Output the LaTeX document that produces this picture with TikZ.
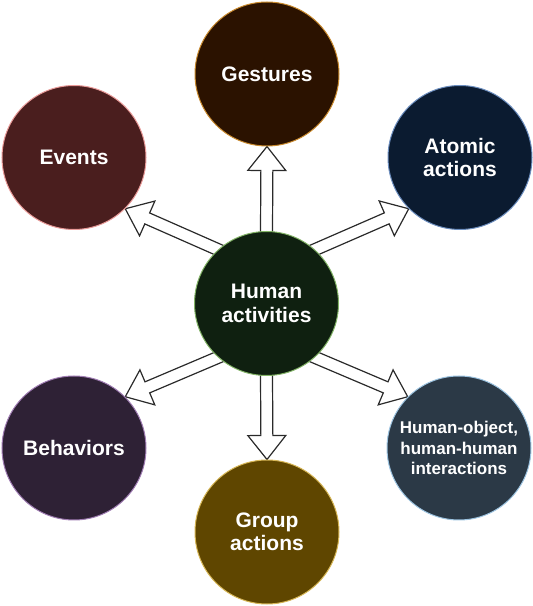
\documentclass[tikz,border=0pt]{standalone}
\usepackage{fontspec}
\setmainfont{Liberation Sans}
\usetikzlibrary{calc,backgrounds}
\definecolor{hubfill}{HTML}{0F2010}
\definecolor{hubline}{HTML}{82B366}
\definecolor{gestfill}{HTML}{2B1200}
\definecolor{gestline}{HTML}{C98A2E}
\definecolor{evfill}{HTML}{4A1E1E}
\definecolor{evline}{HTML}{E99A98}
\definecolor{atomfill}{HTML}{0B1B30}
\definecolor{atomline}{HTML}{6C8EBF}
\definecolor{behfill}{HTML}{2E2135}
\definecolor{behline}{HTML}{A07DB3}
\definecolor{interfill}{HTML}{2B3946}
\definecolor{interline}{HTML}{9CC3E0}
\definecolor{grpfill}{HTML}{5F4600}
\definecolor{grpline}{HTML}{D6B656}
\definecolor{arrowgray}{HTML}{2A2A2A}
\tikzset{
  activity/.style={circle, minimum size=144pt, inner sep=0pt, line width=1pt,
    text=white, align=center, font=\bfseries\fontsize{21}{23.5}\selectfont},
  blockarrow/.style={draw=arrowgray, fill=white, line width=1.2pt, line join=miter,
    to path={
      ($(\tikztostart)!-10pt!(\tikztotarget)!6pt!90:(\tikztotarget)$) --
      ($(\tikztotarget)!24pt!(\tikztostart)!6pt!-90:(\tikztostart)$) --
      ($(\tikztotarget)!24pt!(\tikztostart)!19pt!-90:(\tikztostart)$) --
      (\tikztotarget) --
      ($(\tikztotarget)!24pt!(\tikztostart)!19pt!90:(\tikztostart)$) --
      ($(\tikztotarget)!24pt!(\tikztostart)!6pt!90:(\tikztostart)$) --
      ($(\tikztostart)!-10pt!(\tikztotarget)!6pt!-90:(\tikztotarget)$) -- cycle}}
}
\begin{document}
\begin{tikzpicture}[x=1pt, y=1pt]
    \useasboundingbox (0,0) rectangle (533,606);
    \node[activity, fill=hubfill, draw=hubline] (hub) at (266.5,302.5) {Human\\activities};
    \node[activity, fill=gestfill, draw=gestline] (gest) at (267,532) {Gestures};
    \node[activity, fill=evfill, draw=evline] (events) at (74,448.5) {Events};
    \node[activity, fill=atomfill, draw=atomline] (atomic) at (460,448.5) {Atomic\\actions};
    \node[activity, fill=behfill, draw=behline] (behav) at (74,158) {Behaviors};
    \node[activity, fill=interfill, draw=interline, font=\bfseries\fontsize{17}{20.5}\selectfont] (inter) at (459,158) {Human-object,\\human-human\\interactions};
    \node[activity, fill=grpfill, draw=grpline] (group) at (267,74) {Group\\actions};
    \begin{scope}[on background layer]
      \draw[blockarrow] (hub.north) to (gest.south);
      \draw[blockarrow] (hub.south) to (group.north);
      \draw[blockarrow] (hub.132) to (events.-45);
      \draw[blockarrow] (hub.48) to (atomic.-135);
      \draw[blockarrow] (hub.-132) to (behav.45);
      \draw[blockarrow] (hub.-48) to (inter.135);
    \end{scope}
  \end{tikzpicture}
\end{document}
